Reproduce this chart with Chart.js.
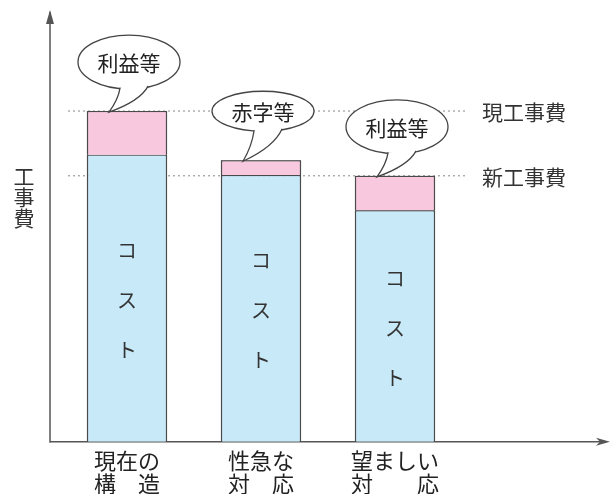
<!DOCTYPE html>
<html>
<head>
<meta charset="utf-8">
<script src="https://cdn.jsdelivr.net/npm/chart.js@4/dist/chart.umd.min.js"></script>
<style>
  html, body { margin: 0; padding: 0; background: #fff; }
  #wrap { width: 613px; height: 494px; }
</style>
</head>
<body>
<div id="wrap"><canvas id="chart" width="613" height="494"></canvas></div>
<script>
// values (0 = x axis, 100 = top of the y arrow)
const categories = [['現在の', '構　造'], ['性急な', '対　応'], ['望ましい', '対　　応'], ''];
const costValues = [66.5, 61.8, 53.6, null];
const marginValues = [10.1, 3.4, 8.0, null];
const bubbleLabels = ['利益等', '赤字等', '利益等'];
const currentCost = 76.6;
const newCost = 61.6;
const refLabels = ['現工事費', '新工事費'];
const yTitle = '工事費';
const barText = 'コスト';

const FONT = "'Noto Sans CJK JP', 'Noto Sans', sans-serif";

function drawBubble(ctx, cx, cy, rx, ry, tipX, tipY, text) {
    ctx.save();
    ctx.lineWidth = 1.3;
    ctx.strokeStyle = '#444';
    ctx.fillStyle = '#fff';
    ctx.beginPath();
    ctx.ellipse(cx, cy, rx, ry, 0, 0, Math.PI * 2);
    ctx.fill();
    ctx.stroke();
    // tail
    const a1 = 100 * Math.PI / 180, a2 = 68 * Math.PI / 180;
    const p1 = [cx + rx * Math.cos(a1), cy + ry * Math.sin(a1) - 1];
    const p2 = [cx + rx * Math.cos(a2), cy + ry * Math.sin(a2) - 1];
    ctx.beginPath();
    ctx.moveTo(p1[0], p1[1]);
    ctx.quadraticCurveTo(p1[0] - 2, (p1[1] + tipY) / 2, tipX, tipY);
    ctx.quadraticCurveTo(p2[0] - 8, (p2[1] + tipY) / 2 + 2, p2[0], p2[1]);
    ctx.closePath();
    ctx.fill();
    ctx.beginPath();
    ctx.moveTo(p1[0], p1[1]);
    ctx.quadraticCurveTo(p1[0] - 2, (p1[1] + tipY) / 2, tipX, tipY);
    ctx.quadraticCurveTo(p2[0] - 8, (p2[1] + tipY) / 2 + 2, p2[0], p2[1]);
    ctx.stroke();
    ctx.fillStyle = '#222';
    ctx.font = '21px ' + FONT;
    ctx.textAlign = 'center';
    ctx.textBaseline = 'middle';
    ctx.fillText(text, cx, cy + 1);
    ctx.restore();
}

const decorations = {
    id: 'decorations',
    afterDatasetsDraw(chart) {
        const ctx = chart.ctx;
        const area = chart.chartArea;
        const yScale = chart.scales.y;
        const costMeta = chart.getDatasetMeta(0);
        const marginMeta = chart.getDatasetMeta(1);
        const axisX = area.left - 10;

        ctx.save();
        // axes with arrows
        ctx.strokeStyle = '#555';
        ctx.fillStyle = '#555';
        ctx.lineWidth = 1.5;
        ctx.beginPath();
        ctx.moveTo(axisX, area.bottom + 1);
        ctx.lineTo(axisX, area.top + 2);
        ctx.moveTo(axisX, area.bottom);
        ctx.lineTo(area.right + 10, area.bottom);
        ctx.stroke();
        ctx.beginPath();
        ctx.moveTo(axisX, area.top);
        ctx.lineTo(axisX - 4, area.top + 14);
        ctx.lineTo(axisX + 4, area.top + 14);
        ctx.closePath();
        ctx.fill();
        ctx.beginPath();
        ctx.moveTo(area.right + 14, area.bottom);
        ctx.lineTo(area.right, area.bottom - 4);
        ctx.lineTo(area.right + 4, area.bottom);
        ctx.lineTo(area.right, area.bottom + 4);
        ctx.closePath();
        ctx.fill();

        // reference lines 現工事費 / 新工事費
        const lineEnd = costMeta.data[2].x + 70;
        [currentCost, newCost].forEach((v, i) => {
            const y = yScale.getPixelForValue(v);
            ctx.save();
            ctx.strokeStyle = '#888';
            ctx.lineWidth = 1;
            ctx.setLineDash([2, 3]);
            ctx.beginPath();
            ctx.moveTo(axisX + 18, y);
            ctx.lineTo(lineEnd, y);
            ctx.stroke();
            ctx.restore();
            ctx.fillStyle = '#333';
            ctx.font = '21px ' + FONT;
            ctx.textAlign = 'left';
            ctx.textBaseline = 'middle';
            ctx.fillText(refLabels[i], lineEnd + 17, y + 1);
        });

        // redraw bars over the dashed lines
        costMeta.data.forEach((el, i) => { if (costValues[i] != null) el.draw(ctx); });
        marginMeta.data.forEach((el, i) => { if (marginValues[i] != null) el.draw(ctx); });

        // vertical コスト inside each cost segment
        ctx.fillStyle = '#333';
        ctx.font = '20px ' + FONT;
        ctx.textAlign = 'center';
        ctx.textBaseline = 'middle';
        costMeta.data.forEach((el, i) => {
            if (costValues[i] == null) return;
            const mid = (el.y + el.base) / 2 + 2;
            [...barText].forEach((ch, k) => ctx.fillText(ch, el.x, mid + (k - 1) * 50));
        });

        // speech bubbles
        marginMeta.data.forEach((el, i) => {
            if (i >= bubbleLabels.length) return;
            const tipX = el.x - 18;
            const tipY = el.y + 1;
            const ry = i === 1 ? 20 : 27;
            drawBubble(ctx, el.x + 2, tipY - 50, 51, ry, tipX, tipY, bubbleLabels[i]);
        });

        // y title, stacked vertically
        ctx.fillStyle = '#333';
        ctx.font = '21px ' + FONT;
        [...yTitle].forEach((ch, k) => ctx.fillText(ch, 24, yScale.getPixelForValue(61.5) + k * 21));
        ctx.restore();
    }
};

new Chart(document.getElementById('chart').getContext('2d'), {
    type: 'bar',
    data: {
        labels: categories,
        datasets: [
            { label: 'コスト', data: costValues, backgroundColor: '#c8eaf8', borderColor: '#4a4a4a', borderWidth: { left: 1.5, right: 1.5, top: 1.2 }, borderSkipped: 'start' },
            { label: '利益等', data: marginValues, backgroundColor: '#f8c8df', borderColor: '#4a4a4a', borderWidth: { left: 1.5, right: 1.5, top: 1.2 }, borderSkipped: 'start' }
        ]
    },
    options: {
        responsive: false,
        devicePixelRatio: 1,
        animation: false,
        layout: { padding: { left: 60, right: 17, top: 10, bottom: 0 } },
        datasets: { bar: { categoryPercentage: 1, barPercentage: 0.6 } },
        plugins: { legend: { display: false }, tooltip: { enabled: false } },
        scales: {
            x: {
                stacked: true,
                grid: { display: false },
                border: { display: false },
                ticks: { color: '#222', font: { family: FONT, size: 22, lineHeight: 1.05 }, padding: -1, maxRotation: 0, autoSkip: false }
            },
            y: { stacked: true, display: false, min: 0, max: 100 }
        }
    },
    plugins: [decorations]
});
</script>
</body>
</html>
